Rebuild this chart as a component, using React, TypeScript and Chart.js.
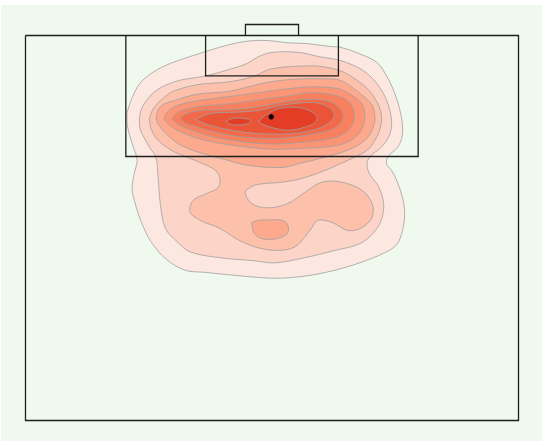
import React, { useEffect, useRef } from "react";
import { Chart, registerables } from "chart.js";

Chart.register(...registerables);

type P = [number, number];

// Pitch (metres): width 68 across, half length 52.5 down from the goal line
const pitchWidth = 68;
const pitchHalfLength = 52.5;
const outerLine: P[] = [[0, 0], [68, 0], [68, 52.5], [0, 52.5], [0, 0]];
const penaltyBox: P[] = [[13.84, 0], [13.84, 16.5], [54.16, 16.5], [54.16, 0]];
const sixYardBox: P[] = [[24.84, 0], [24.84, 5.5], [43.16, 5.5], [43.16, 0]];
const goalFrame: P[] = [[30.34, 0], [30.34, -1.5], [37.66, -1.5], [37.66, 0]];

// Shot location marker
const shotPoints: P[] = [[33.9, 11.1]];

// KDE contour levels (outer -> inner)
const level1: P[] = [[14.0,10.5],[14.7,8.5],[15.8,6.5],[17.6,5.0],[20.0,3.8],[22.3,3.0],[24.5,2.3],[26.8,1.6],[29.2,1.0],[31.4,0.7],[33.7,0.7],[36.1,1.0],[38.8,1.1],[42.0,1.5],[43.4,1.6],[46.1,2.5],[48.5,3.7],[49.8,5.5],[50.9,7.8],[51.6,10.0],[52.0,12.3],[51.9,14.0],[51.2,15.4],[50.1,16.4],[49.8,17.5],[50.5,18.4],[51.3,20.0],[52.0,22.1],[52.3,24.1],[52.0,26.6],[51.2,28.5],[49.6,29.6],[46.1,31.0],[43.1,31.9],[39.9,32.6],[36.8,33.0],[34.0,33.1],[31.0,32.9],[27.7,32.6],[24.8,32.3],[22.0,32.0],[19.4,30.5],[17.3,28.1],[16.0,25.5],[15.1,22.8],[14.7,20.9],[15.0,18.8],[15.4,17.0],[14.9,15.3],[14.3,13.4],[14.0,11.9]];
const level2: P[] = [[15.7,11.3],[16.0,10.0],[16.8,8.7],[17.9,7.6],[19.3,6.8],[21.3,6.1],[24.9,5.5],[28.2,4.6],[30.6,3.8],[32.1,2.9],[34.1,2.3],[37.6,2.3],[40.6,2.9],[43.4,3.4],[46.1,4.5],[47.9,5.9],[49.3,7.8],[50.2,10.0],[50.5,12.3],[50.0,14.0],[48.9,15.4],[47.5,16.5],[47.1,17.7],[47.6,19.1],[48.7,20.6],[49.4,22.9],[49.1,25.1],[48.0,26.9],[46.1,28.4],[42.7,29.3],[38.5,30.3],[34.4,31.0],[31.4,30.7],[26.8,30.3],[22.7,29.5],[20.9,28.1],[19.3,26.3],[18.6,23.0],[18.3,19.5],[18.0,16.6],[17.2,15.4],[16.4,14.0],[15.8,12.7]];
const level3: P[] = [[17.1,11.3],[17.5,10.2],[18.2,9.3],[19.3,8.3],[20.4,7.6],[23.7,6.7],[28.2,6.3],[31.4,5.6],[33.7,4.6],[37.4,4.2],[40.6,4.2],[43.4,4.8],[45.1,5.7],[47.1,7.2],[48.5,9.1],[49.1,10.9],[48.9,12.7],[48.2,14.3],[47.4,15.4],[46.4,16.1],[44.5,17.0],[41.3,18.4],[38.1,19.5],[35.4,20.0],[32.1,20.3],[30.7,20.9],[30.3,21.5],[31.2,22.9],[33.4,23.5],[36.2,22.9],[38.5,21.4],[40.9,20.0],[43.6,20.0],[46.4,21.1],[47.8,22.9],[47.8,24.8],[46.4,26.2],[44.5,26.6],[42.3,25.5],[40.3,25.2],[39.5,26.2],[38.5,27.5],[37.2,28.8],[35.1,29.3],[32.3,29.0],[29.6,28.0],[26.8,26.3],[24.1,25.2],[22.7,24.1],[23.1,22.5],[25.1,21.5],[26.6,20.7],[26.8,19.4],[26.2,18.4],[24.5,17.5],[22.3,16.6],[20.2,15.7],[18.3,14.3],[17.3,12.7]];
const level4: P[] = [[18.0,11.3],[18.3,10.2],[19.0,9.4],[20.4,8.9],[23.7,8.0],[28.2,7.6],[32.8,6.5],[36.5,6.0],[40.6,5.9],[43.4,6.1],[45.1,7.1],[46.5,8.2],[47.8,9.5],[48.2,11.2],[47.9,12.7],[47.1,14.0],[45.8,15.0],[44.0,15.8],[41.3,16.6],[37.6,17.5],[35.4,18.0],[30.7,17.7],[27.1,16.8],[24.1,16.0],[21.3,14.9],[19.4,13.4],[18.3,12.1]];
const level4Lower: P[] = [[31.2,25.5],[32.1,25.2],[33.7,25.15],[35.4,25.2],[36.2,25.9],[36.1,27.0],[34.6,27.7],[32.6,27.7],[31.5,26.9]];
const level5: P[] = [[19.1,11.3],[19.5,10.5],[20.6,9.7],[21.7,9.3],[23.7,8.9],[25.9,8.6],[30.6,8.0],[35.1,7.4],[39.2,7.0],[42.0,7.1],[43.6,7.4],[45.1,8.2],[46.4,9.3],[46.8,10.9],[46.5,12.5],[45.8,13.6],[44.3,14.6],[42.4,15.1],[37.9,15.4],[33.9,15.5],[29.6,15.1],[26.2,14.6],[23.4,13.9],[21.1,13.0],[19.7,12.1]];
const level6: P[] = [[20.2,11.3],[20.8,10.6],[22.0,10.1],[23.7,9.7],[28.2,9.3],[32.8,8.7],[36.5,8.2],[39.2,7.8],[42.0,8.0],[44.0,8.6],[45.0,9.5],[45.4,10.9],[45.1,12.1],[44.2,13.2],[42.4,14.0],[37.9,14.6],[33.9,14.8],[29.6,14.45],[26.2,13.9],[23.4,13.1],[21.6,12.4],[20.7,11.9]];
const level7: P[] = [[21.3,11.3],[21.9,10.8],[23.0,10.4],[24.5,10.2],[29.2,10.05],[32.8,9.6],[36.5,8.9],[39.2,8.7],[41.7,8.9],[43.1,9.7],[43.8,10.8],[43.5,11.9],[42.3,12.8],[39.9,13.4],[36.5,13.9],[33.9,14.05],[29.6,13.8],[26.2,13.2],[23.4,12.4],[22.0,11.9]];
const level8: P[] = [[23.5,11.5],[24.5,11.0],[25.7,10.6],[29.2,10.45],[32.3,10.2],[35.1,9.55],[37.9,9.2],[40.3,9.2],[42.0,9.9],[42.6,10.8],[42.1,11.7],[40.6,12.6],[37.9,13.25],[34.4,13.45],[30.3,13.2],[26.8,12.6],[24.8,12.05]];
const level9Left: P[] = [[27.7,11.7],[28.5,11.3],[29.6,11.25],[30.6,11.4],[31.1,11.7],[30.4,12.1],[29.3,12.2],[28.2,12.1]];
const level9Right: P[] = [[32.2,11.7],[32.9,11.0],[33.7,10.5],[34.8,10.0],[36.1,9.8],[37.4,9.8],[38.5,10.0],[39.5,10.4],[40.1,10.9],[40.2,11.5],[39.6,12.1],[38.5,12.5],[37.2,12.85],[35.8,12.9],[34.6,12.7],[33.3,12.35],[32.6,12.05]];

const levelColors = ["#fde8e1", "#fdd5c8", "#fcc0ab", "#fca98e", "#fb9575", "#f8805e", "#f26a4a", "#ea5538", "#e33d25"];
const levelShapes: P[][][] = [
  [level1],
  [level2],
  [level3],
  [level4, level4Lower],
  [level5],
  [level6],
  [level7],
  [level8],
  [level9Left, level9Right],
];

const toXY = (pts: P[]) => pts.map(([x, y]) => ({ x, y }));
const closed = (pts: P[]) => toXY([...pts, pts[0]]);

export default function App() {
  const ref = useRef<HTMLCanvasElement | null>(null);

  useEffect(() => {
    document.body.style.margin = "0";
    const canvas = ref.current;
    if (!canvas) return;

    const datasets: any[] = [];
    levelShapes.forEach((shapes, li) => {
      shapes.forEach((shape) => {
        datasets.push({
          type: "line",
          data: closed(shape),
          backgroundColor: levelColors[li],
          borderColor: "rgba(160,160,160,0.8)",
          borderWidth: 1,
          fill: "shape",
          tension: 0.35,
          pointRadius: 0,
          order: 30 - li,
        });
      });
    });

    [outerLine, penaltyBox, sixYardBox, goalFrame].forEach((ln) => {
      datasets.push({
        type: "line",
        data: toXY(ln),
        borderColor: "#1e1e1e",
        borderWidth: 1.3,
        fill: false,
        tension: 0,
        pointRadius: 0,
        order: 1,
      });
    });

    datasets.push({
      type: "scatter",
      data: toXY(shotPoints),
      backgroundColor: "#000000",
      borderColor: "#000000",
      pointRadius: 2.2,
      order: 0,
    });

    const bgPlugin = {
      id: "pitchBg",
      beforeDraw(chart: any) {
        const { ctx, chartArea } = chart;
        ctx.save();
        ctx.fillStyle = "#f0f9ee";
        ctx.fillRect(chartArea.left, chartArea.top, chartArea.right - chartArea.left, chartArea.bottom - chartArea.top);
        ctx.restore();
      },
    };

    const chart = new Chart(canvas, {
      type: "line",
      data: { datasets },
      options: {
        responsive: false,
        animation: false,
        events: [],
        layout: { autoPadding: false, padding: { left: 1, top: 5, right: 8, bottom: 6 } },
        scales: {
          x: { type: "linear", min: -3.379, max: pitchWidth + 3.241, display: false },
          y: { type: "linear", min: -4.159, max: pitchHalfLength + 2.795, reverse: true, display: false },
        },
        plugins: { legend: { display: false }, tooltip: { enabled: false } },
      },
      plugins: [bgPlugin],
    });
    return () => chart.destroy();
  }, []);

  return <canvas ref={ref} width={550} height={447} style={{ display: "block" }} />;
}
